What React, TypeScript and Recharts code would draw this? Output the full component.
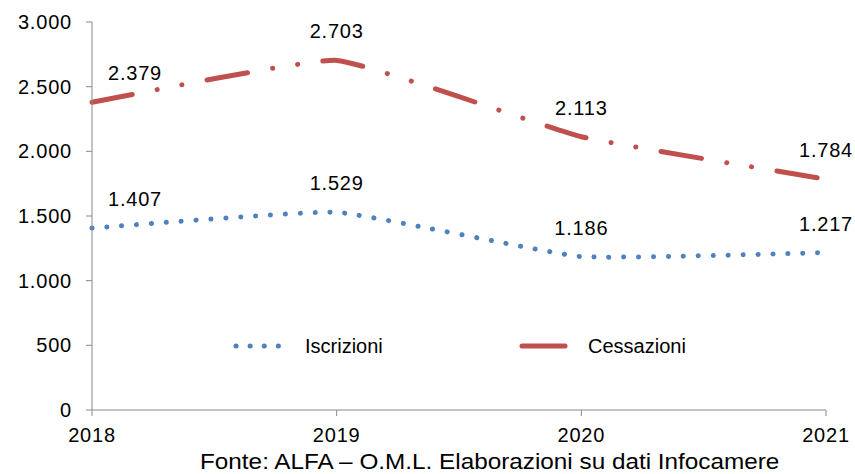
import React from 'react';
import { LineChart, Line, XAxis, YAxis, Legend, LabelList } from 'recharts';

const years = ['2018', '2019', '2020', '2021'];
const iscrizioni = [1407, 1529, 1186, 1217];
const cessazioni = [2379, 2703, 2113, 1784];
const yTicks = [0, 500, 1000, 1500, 2000, 2500, 3000];

const BLUE = '#4F81BD';
const RED = '#C0504D';
const AXIS = '#898989';
const FONT = '"Liberation Sans", Arial, sans-serif';

const rows = years.map((year, i) => ({ year, iscrizioni: iscrizioni[i], cessazioni: cessazioni[i] }));

// 1407 -> 1.407
const fmt = (v: number) => String(v).replace(/\B(?=(\d{3})+(?!\d))/g, '.');

// lightly smoothed line: almost straight segments, rounded at the points
const TENSION = 0.35;
const softCurve = (context: any) => {
  let pts: number[][] = [];
  return {
    areaStart() {},
    areaEnd() {},
    lineStart() {
      pts = [];
    },
    point(x: number, y: number) {
      pts.push([+x, +y]);
    },
    lineEnd() {
      if (!pts.length) return;
      context.moveTo(pts[0][0], pts[0][1]);
      for (let i = 0; i < pts.length - 1; i++) {
        const p0 = pts[i - 1] || pts[i];
        const p1 = pts[i];
        const p2 = pts[i + 1];
        const p3 = pts[i + 2] || p2;
        const k = TENSION / 6;
        context.bezierCurveTo(
          p1[0] + (p2[0] - p0[0]) * k,
          p1[1] + (p2[1] - p0[1]) * k,
          p2[0] - (p3[0] - p1[0]) * k,
          p2[1] - (p3[1] - p1[1]) * k,
          p2[0],
          p2[1]
        );
      }
    },
  };
};

const ValueLabel = (props: any) => {
  const { x, y, value, index } = props;
  return (
    <text
      x={index === 0 ? x + 43 : x}
      y={y - 22}
      textAnchor="middle"
      fontSize={20}
      fontFamily={FONT}
      letterSpacing={0.8}
      fill="#000"
    >
      {fmt(value)}
    </text>
  );
};

const LegendBox = () => (
  <svg width={855} height={26} style={{ display: 'block' }}>
    <line x1={236} y1={13} x2={292.1} y2={13} stroke={BLUE} strokeWidth={5} strokeLinecap="round" strokeDasharray="0.1 14" />
    <text x={305} y={20} fontSize={20} fontFamily={FONT} fill="#000">Iscrizioni</text>
    <line x1={522} y1={13} x2={565} y2={13} stroke={RED} strokeWidth={5} strokeLinecap="round" />
    <text x={588} y={20} fontSize={20} fontFamily={FONT} fill="#000">Cessazioni</text>
  </svg>
);

export default function App() {
  return (
    <div style={{ position: 'absolute', top: 0, left: 0, width: 855, height: 474, background: '#fff', fontFamily: FONT }}>
      <LineChart width={855} height={474} data={rows} margin={{ top: 22, right: 29, bottom: 0, left: 0 }}>
        <XAxis
          dataKey="year"
          height={64}
          stroke={AXIS}
          tickSize={6}
          tickMargin={12}
          tick={{ fill: '#000', fontSize: 20, fontFamily: FONT, letterSpacing: 0.8 }}
          interval={0}
        />
        <YAxis
          width={92}
          domain={[0, 3000]}
          ticks={yTicks}
          stroke={AXIS}
          tickSize={6}
          tickMargin={14}
          tickFormatter={fmt}
          tick={{ fill: '#000', fontSize: 20, fontFamily: FONT, letterSpacing: 0.8 }}
          interval={0}
        />
        <Legend verticalAlign="middle" content={<LegendBox />} wrapperStyle={{ top: 333, left: 0, width: 855 }} />
        <Line
          type={softCurve as any}
          dataKey="iscrizioni"
          name="Iscrizioni"
          stroke={BLUE}
          strokeWidth={5}
          strokeLinecap="round"
          strokeLinejoin="round"
          strokeDasharray="0.1 14.8"
          dot={false}
          activeDot={false}
          isAnimationActive={false}
        >
          <LabelList dataKey="iscrizioni" content={<ValueLabel />} />
        </Line>
        <Line
          type={softCurve as any}
          dataKey="cessazioni"
          name="Cessazioni"
          stroke={RED}
          strokeWidth={5}
          strokeLinecap="round"
          strokeLinejoin="round"
          strokeDasharray="41 25.5 0.1 25 0.1 25.5"
          dot={false}
          activeDot={false}
          isAnimationActive={false}
        >
          <LabelList dataKey="cessazioni" content={<ValueLabel />} />
        </Line>
      </LineChart>
      <div
        style={{
          position: 'absolute',
          left: 200,
          top: 450,
          fontSize: 21.5,
          lineHeight: '24px',
          color: '#000',
          whiteSpace: 'nowrap',
          transform: 'scaleX(1.13)',
          transformOrigin: 'left center',
        }}
      >
        Fonte: ALFA – O.M.L. Elaborazioni su dati Infocamere
      </div>
    </div>
  );
}
